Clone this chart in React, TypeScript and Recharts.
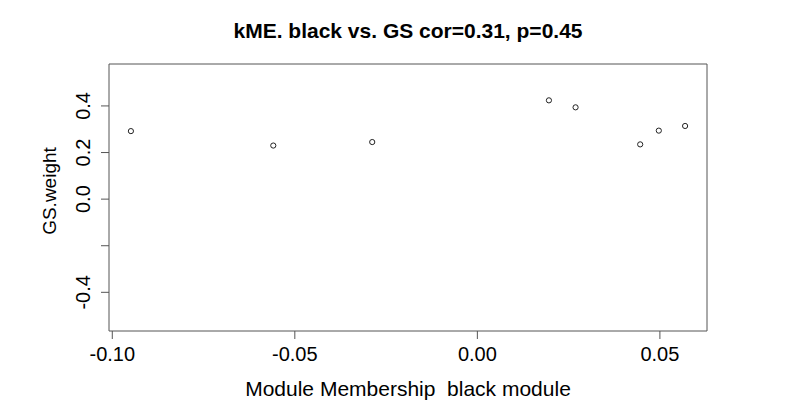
import React from "react";
import { ScatterChart, Scatter, XAxis, YAxis, ReferenceArea, Customized } from "recharts";

const kME = [-0.0949, -0.0559, -0.0288, 0.0196, 0.0269, 0.0446, 0.0497, 0.0569];
const gsWeight = [0.292, 0.230, 0.245, 0.424, 0.394, 0.235, 0.294, 0.314];
const xTicks = [-0.1, -0.05, 0, 0.05];
const yTicks = [-0.4, -0.2, 0, 0.2, 0.4];
const yTickLabels = ["-0.4", "", "0.0", "0.2", "0.4"];
const title = "kME. black vs. GS cor=0.31, p=0.45";
const xLabel = "Module Membership  black module";
const yLabel = "GS.weight";

const data = kME.map((x, i) => ({ x, y: gsWeight[i] }));

const X_DOMAIN: [number, number] = [-0.1009, 0.0629];
const Y_DOMAIN: [number, number] = [-0.566, 0.58];
const FONT = "'Liberation Sans', Arial, sans-serif";

const XTick = (props: any) => {
  const { x, y, payload } = props;
  return (
    <text x={x} y={y + 13} textAnchor="middle" dominantBaseline="central" fontFamily={FONT} fontSize={20} fill="#000">
      {Number(payload.value).toFixed(2)}
    </text>
  );
};

const YTick = (props: any) => {
  const { x, y, payload } = props;
  const idx = yTicks.indexOf(payload.value);
  const label = idx >= 0 ? yTickLabels[idx] : "";
  const cx = x - 16;
  return (
    <text x={cx} y={y} transform={`rotate(-90, ${cx}, ${y})`} textAnchor="middle" dominantBaseline="central" fontFamily={FONT} fontSize={20} fill="#000">
      {label}
    </text>
  );
};

const Labels = () => (
  <g>
    <text x={408} y={30} textAnchor="middle" dominantBaseline="central" fontFamily={FONT} fontSize={21} fontWeight="bold" fill="#000">
      {title}
    </text>
    <text x={408} y={388} textAnchor="middle" dominantBaseline="central" fontFamily={FONT} fontSize={21} fill="#000" style={{ whiteSpace: "pre" }}>
      {xLabel}
    </text>
    <text x={49} y={191} transform="rotate(-90, 49, 191)" textAnchor="middle" dominantBaseline="central" fontFamily={FONT} fontSize={19} fill="#000">
      {yLabel}
    </text>
  </g>
);

const Dot = (props: any) => (
  <circle cx={props.cx} cy={props.cy} r={2.6} fill="none" stroke="#222" strokeWidth={1} />
);

export default function App() {
  return (
    <div style={{ position: "absolute", left: 0, top: 0, width: 791, height: 411, background: "#fff" }}>
      <ScatterChart width={791} height={411} margin={{ top: 64, right: 84, bottom: 40, left: 49 }}>
        <XAxis
          type="number"
          dataKey="x"
          domain={X_DOMAIN}
          ticks={xTicks}
          allowDataOverflow
          axisLine={false}
          tickLine={{ stroke: "#555" }}
          tickSize={8}
          height={40}
          tick={<XTick />}
          interval={0}
        />
        <YAxis
          type="number"
          dataKey="y"
          domain={Y_DOMAIN}
          ticks={yTicks}
          allowDataOverflow
          axisLine={false}
          tickLine={{ stroke: "#555" }}
          tickSize={8}
          width={60}
          tick={<YTick />}
          interval={0}
        />
        <ReferenceArea x1={X_DOMAIN[0]} x2={X_DOMAIN[1]} y1={Y_DOMAIN[0]} y2={Y_DOMAIN[1]} fill="none" stroke="#555" strokeWidth={1} fillOpacity={0} ifOverflow="visible" />
        <Scatter data={data} shape={<Dot />} isAnimationActive={false} />
        <Customized component={Labels} />
      </ScatterChart>
    </div>
  );
}
